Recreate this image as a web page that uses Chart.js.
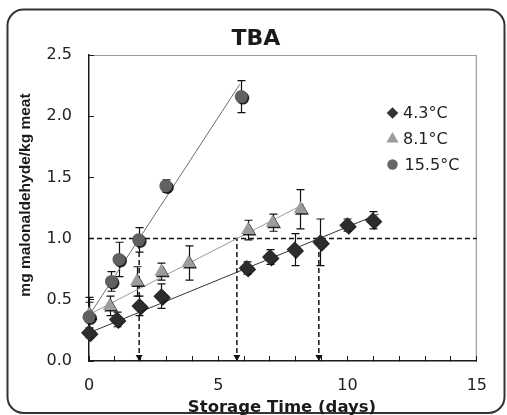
<!DOCTYPE html>
<html>
<head>
<meta charset="utf-8">
<script src="https://cdn.jsdelivr.net/npm/chart.js@4.4.1/dist/chart.umd.min.js"></script>
<style>
html, body { margin: 0; padding: 0; background: #fff; }
#wrap { position: relative; width: 507px; height: 415px; }
</style>
</head>
<body>
<div id="wrap"><canvas id="tba-chart" width="507" height="415"></canvas></div>
<script>
// TBA (mg malonaldehyde/kg meat) vs storage time, three storage temperatures

var SERIES_LABELS = ['4.3°C', '8.1°C', '15.5°C'];

// 4.3°C (diamonds)
var daysA = [0, 1.08, 1.95, 2.8, 6.1, 7.0, 7.95, 8.95, 9.99, 10.98];
var tbaA  = [0.23, 0.34, 0.45, 0.53, 0.76, 0.85, 0.91, 0.97, 1.11, 1.15];
var errA  = [0.04, 0.06, 0.08, 0.10, 0.05, 0.06, 0.13, 0.19, 0.05, 0.07];

// 8.1°C (triangles)
var daysB = [0, 0.8, 1.85, 2.8, 3.85, 6.15, 7.1, 8.18];
var tbaB  = [0.38, 0.45, 0.65, 0.73, 0.80, 1.07, 1.13, 1.24];
var errB  = [0.14, 0.08, 0.12, 0.07, 0.14, 0.08, 0.07, 0.16];

// 15.5°C (circles)
var daysC = [0, 0.87, 1.16, 1.92, 2.97, 5.89];
var tbaC  = [0.36, 0.65, 0.83, 0.99, 1.43, 2.16];
var errC  = [0.12, 0.08, 0.14, 0.10, 0.05, 0.13];

// fitted trend lines (end points)
var fitDaysA = [0, 11.2];  var fitTbaA = [0.23, 1.20];
var fitDaysB = [0, 8.3];   var fitTbaB = [0.38, 1.28];
var fitDaysC = [0, 5.83];  var fitTbaC = [0.37, 2.26];

// acceptance limit and the days each fit crosses it
var LIMIT_TBA = 1.0;
var limitDays = [0, 15];
var crossDays = [1.94, 5.72, 8.89];

var X_TICKS = [0, 5, 10, 15];

function pts(xs, ys) {
  return xs.map(function (x, i) { return { x: x, y: ys[i] }; });
}

var COLORS = ['#2c2c2c', '#9c9c9c', '#606060'];
var LINE_COLORS = ['#333333', '#9a9a9a', '#6e6e6e'];
var STYLES = ['rectRot', 'triangle', 'circle'];
var RADII = [8, 8, 6.5];

var datasets = [
  { label: SERIES_LABELS[0], data: pts(daysA, tbaA), errors: errA, marker: true },
  { label: SERIES_LABELS[1], data: pts(daysB, tbaB), errors: errB, marker: true },
  { label: SERIES_LABELS[2], data: pts(daysC, tbaC), errors: errC, marker: true }
].map(function (d, i) {
  d.backgroundColor = COLORS[i];
  d.borderColor = COLORS[i];
  d.borderWidth = 0;
  d.pointStyle = STYLES[i];
  d.pointRadius = RADII[i];
  d.pointHoverRadius = RADII[i];
  d.showLine = false;
  d.clip = false;
  d.order = 3 - i;
  return d;
});

[[fitDaysA, fitTbaA], [fitDaysB, fitTbaB], [fitDaysC, fitTbaC]].forEach(function (f, i) {
  datasets.push({
    label: 'fit ' + SERIES_LABELS[i], data: pts(f[0], f[1]),
    showLine: true, pointRadius: 0, borderColor: LINE_COLORS[i], borderWidth: 1, order: 8
  });
});

datasets.push({
  label: 'limit', data: pts(limitDays, [LIMIT_TBA, LIMIT_TBA]),
  showLine: true, pointRadius: 0, borderColor: '#111', borderWidth: 1.5, borderDash: [5, 3], order: 9
});
crossDays.forEach(function (d) {
  datasets.push({
    label: 'cross', data: pts([d, d], [0, LIMIT_TBA]),
    showLine: true, pointRadius: 0, borderColor: '#111', borderWidth: 1.5, borderDash: [5, 3], order: 9
  });
});

function roundRect(ctx, x, y, w, h, r) {
  ctx.beginPath();
  ctx.moveTo(x + r, y);
  ctx.lineTo(x + w - r, y);
  ctx.arcTo(x + w, y, x + w, y + r, r);
  ctx.lineTo(x + w, y + h - r);
  ctx.arcTo(x + w, y + h, x + w - r, y + h, r);
  ctx.lineTo(x + r, y + h);
  ctx.arcTo(x, y + h, x, y + h - r, r);
  ctx.lineTo(x, y + r);
  ctx.arcTo(x, y, x + r, y, r);
  ctx.closePath();
}

function setShadow(ctx) {
  ctx.shadowColor = 'rgba(0,0,0,0.85)';
  ctx.shadowOffsetX = 1.5;
  ctx.shadowOffsetY = 1.5;
  ctx.shadowBlur = 0;
}

var decorPlugin = {
  id: 'decor',
  beforeDraw: function (chart) {
    var ctx = chart.ctx;
    ctx.save();
    ctx.fillStyle = '#fff';
    ctx.fillRect(0, 0, chart.width, chart.height);
    ctx.strokeStyle = '#333';
    ctx.lineWidth = 2;
    roundRect(ctx, 7.5, 9.5, 497, 403.5, 16);
    ctx.stroke();
    // top / right frame of the plot area
    var a = chart.chartArea;
    ctx.strokeStyle = '#9a9a9a';
    ctx.lineWidth = 1.2;
    ctx.beginPath();
    ctx.moveTo(a.left, a.top + 0.5);
    ctx.lineTo(a.right - 0.5, a.top + 0.5);
    ctx.lineTo(a.right - 0.5, a.bottom);
    ctx.stroke();
    ctx.restore();
  },
  beforeDatasetsDraw: function (chart) {
    var ctx = chart.ctx, xs = chart.scales.x, ys = chart.scales.y;
    ctx.save();
    ctx.strokeStyle = '#111';
    ctx.lineWidth = 1.2;
    chart.data.datasets.forEach(function (ds) {
      if (!ds.errors) return;
      ds.data.forEach(function (p, i) {
        var e = ds.errors[i];
        var px = Math.round(xs.getPixelForValue(p.x)) + 0.5;
        var top = ys.getPixelForValue(p.y + e);
        var bot = ys.getPixelForValue(p.y - e);
        ctx.beginPath();
        ctx.moveTo(px, top); ctx.lineTo(px, bot);
        ctx.moveTo(px - 4, top); ctx.lineTo(px + 4, top);
        ctx.moveTo(px - 4, bot); ctx.lineTo(px + 4, bot);
        ctx.stroke();
      });
    });
    ctx.restore();
  },
  beforeDatasetDraw: function (chart, args) {
    var ds = chart.data.datasets[args.index];
    chart.ctx.save();
    if (ds.marker) setShadow(chart.ctx);
  },
  afterDatasetDraw: function (chart) {
    chart.ctx.restore();
  },
  afterDraw: function (chart) {
    var ctx = chart.ctx, xs = chart.scales.x, ys = chart.scales.y;
    ctx.save();
    // arrowheads at the foot of the crossing lines
    ctx.fillStyle = '#111';
    var y0 = ys.getPixelForValue(0);
    crossDays.forEach(function (d) {
      var px = xs.getPixelForValue(d);
      ctx.beginPath();
      ctx.moveTo(px - 3.5, y0 - 6);
      ctx.lineTo(px + 3.5, y0 - 6);
      ctx.lineTo(px, y0);
      ctx.closePath();
      ctx.fill();
    });

    // titles
    ctx.fillStyle = '#1a1a1a';
    ctx.textAlign = 'center';
    ctx.textBaseline = 'middle';
    ctx.font = 'bold 22px "DejaVu Sans"';
    ctx.fillText('TBA', 256, 39);
    ctx.textBaseline = 'alphabetic';
    ctx.font = 'bold 16.5px "DejaVu Sans"';
    ctx.fillText('Storage Time (days)', 282, 412);
    ctx.save();
    ctx.translate(25.5, 195);
    ctx.rotate(-Math.PI / 2);
    ctx.textBaseline = 'middle';
    ctx.font = 'bold 15.5px "Liberation Sans"';
    ctx.fillText('mg malonaldehyde/kg meat', 0, 0);
    ctx.restore();

    // legend
    var legendY = [113, 139, 164.5];
    var legendR = [5.8, 7, 5.2];
    var legendColors = ['#333', '#9c9c9c', '#666'];
    for (var i = 0; i < 3; i++) {
      ctx.fillStyle = legendColors[i];
      Chart.helpers.drawPoint(ctx, { pointStyle: STYLES[i], radius: legendR[i], rotation: 0, borderWidth: 0 }, 392.5, legendY[i]);
      ctx.fillStyle = '#222';
      ctx.textAlign = 'left';
      ctx.textBaseline = 'middle';
      ctx.font = '16px "DejaVu Sans"';
      ctx.fillText(SERIES_LABELS[i], i === 2 ? 404.5 : 403, legendY[i] + 1);
    }
    ctx.restore();
  }
};

new Chart(document.getElementById('tba-chart'), {
  type: 'scatter',
  data: { datasets: datasets },
  options: {
    responsive: false,
    animation: false,
    layout: { padding: { top: 55, right: 27, bottom: 0, left: 0 } },
    plugins: { legend: { display: false }, title: { display: false }, tooltip: { enabled: false } },
    scales: {
      x: {
        type: 'linear', min: 0, max: 15,
        border: { display: true, color: '#1a1a1a', width: 1.5 },
        grid: { drawOnChartArea: false, drawTicks: true, tickLength: -5, color: '#1a1a1a' },
        ticks: {
          stepSize: 1, autoSkip: false, maxRotation: 0, padding: 20,
          color: '#222', font: { family: 'DejaVu Sans', size: 16 },
          callback: function (v) { return X_TICKS.indexOf(v) >= 0 ? String(v) : ''; }
        },
        afterFit: function (scale) { scale.height = 54; }
      },
      y: {
        type: 'linear', min: 0, max: 2.5,
        border: { display: true, color: '#1a1a1a', width: 1.5 },
        grid: { drawOnChartArea: false, drawTicks: true, tickLength: -5, color: '#1a1a1a' },
        ticks: {
          stepSize: 0.5, padding: 22,
          color: '#222', font: { family: 'DejaVu Sans', size: 16 },
          callback: function (v) { return v.toFixed(1); }
        },
        afterFit: function (scale) { scale.width = 89; }
      }
    }
  },
  plugins: [decorPlugin]
});
</script>
</body>
</html>
